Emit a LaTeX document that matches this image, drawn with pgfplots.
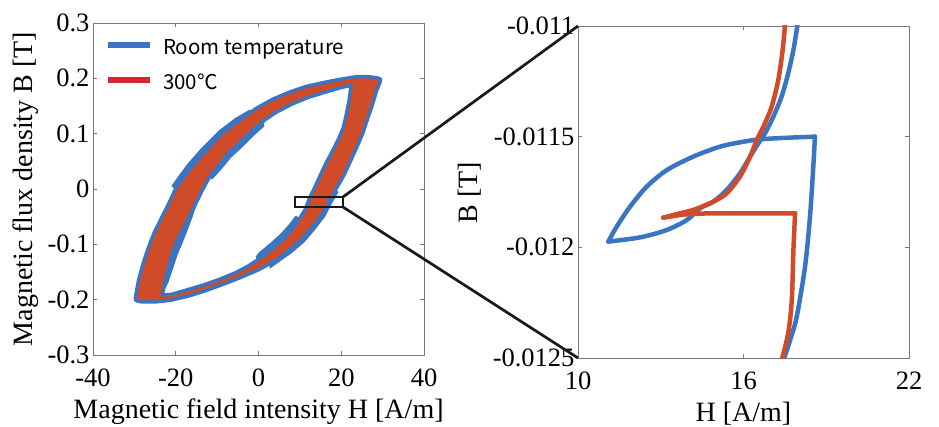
\documentclass[border=0pt]{standalone}
\usepackage{fontspec}
\setmainfont{Liberation Serif}
\newfontfamily\cjk{Noto Sans CJK JP}
\usepackage{pgfplots}
\pgfplotsset{compat=1.18}
\definecolor{cblue}{RGB}{58,117,196}
\definecolor{cred}{RGB}{208,76,40}
\definecolor{lred}{RGB}{215,35,45}
\definecolor{framec}{RGB}{120,120,120}
\pgfplotsset{
  myaxis/.style={
    scale only axis, width=331bp, height=332bp,
    axis line style={framec, line width=0.9bp},
    tick style={framec, line width=0.9bp},
    major tick length=4bp,
    tick align=inside,
    ticklabel style={font=\fontsize{26.5bp}{30bp}\selectfont},
    label style={font=\fontsize{28bp}{32bp}\selectfont},
    xticklabel style={anchor=base, yshift=-31.7bp},
    yticklabel style={anchor=east},
    scaled y ticks=false, scaled x ticks=false,
  }
}
\pgfplotstableread{
H B
29.12 0.197
26.47 0.2
23.81 0.2
19.70 0.195
15.59 0.189
11.48 0.182
7.61 0.172
3.50 0.159
-0.36 0.1428
-4.47 0.1211
-8.58 0.0976
-12.45 0.0669
-15.83 0.0380
-18.01 0.0163
-19.70 -0.0018
-21.39 -0.0289
-22.84 -0.0506
-24.77 -0.0795
-25.74 -0.0976
-26.95 -0.1229
-27.92 -0.1464
-28.64 -0.1681
-29.12 -0.1879
-29.37 -0.1988
-28.16 -0.201
-25.02 -0.201
-21.39 -0.198
-17.28 -0.191
-13.41 -0.182
-9.31 -0.171
-4.47 -0.157
-0.12 -0.143
3.75 -0.127
7.13 -0.108
10.03 -0.089
12.69 -0.067
15.11 -0.043
16.56 -0.0217
18.25 0.000
20.18 0.025
21.87 0.052
23.32 0.076
24.77 0.101
25.98 0.128
27.19 0.155
28.16 0.179
29.12 0.197
22.84 0.1916
19.70 0.1861
15.59 0.1771
11.72 0.1681
7.61 0.1554
3.99 0.1410
1.09 0.1265
-2.05 0.1066
-4.47 0.0886
-7.61 0.0669
-10.03 0.0434
-12.21 0.0235
-13.90 0.0000
-15.83 -0.0289
-17.28 -0.0506
-19.21 -0.0795
-20.42 -0.0976
-21.39 -0.1193
-22.36 -0.1464
-23.08 -0.1681
-23.57 -0.1879
-23.32 -0.1952
-20.91 -0.1934
-17.52 -0.1861
-13.41 -0.1771
-9.31 -0.1663
-5.20 -0.1536
-2.05 -0.1410
0.85 -0.1265
3.99 -0.1084
6.40 -0.0922
8.34 -0.0759
10.03 -0.0578
11.72 -0.0380
12.69 -0.0181
13.90 0.0000
15.11 0.0199
16.56 0.0434
18.25 0.0669
19.70 0.0886
20.91 0.1102
21.63 0.1337
22.36 0.1608
22.84 0.1916
}\bandtable
\begin{document}
\begin{tikzpicture}
\path[use as bounding box] (0,0) rectangle (939bp,427bp);
% ---------------- left panel ----------------
\begin{axis}[myaxis,
  at={(93bp,72bp)}, anchor=south west,
  xmin=-40, xmax=40, ymin=-0.3, ymax=0.3,
  xtick={-40,-20,0,20,40}, xticklabels={-40,-20,0,20,40},
  ytick={-0.3,-0.2,-0.1,0,0.1,0.2,0.3},
  yticklabels={-0.3,-0.2,-0.1,0,0.1,0.2,0.3},
  xlabel={Magnetic field intensity H [A/m]},
  ylabel={Magnetic flux density B [T]},
  xlabel style={at={(axis description cs:0.5,-0.19)}, anchor=base},
  ylabel style={at={(axis description cs:-0.184,0.5)}, anchor=base},
  every axis plot/.append style={line join=round},
]
% room temperature band
\addplot[fill=cblue, draw=cblue, line width=7bp, even odd rule] table[x=H,y=B] {\bandtable};
% wider fringes of the room temperature loop
\addplot[fill=cblue, draw=cblue, line width=1bp] coordinates {
(-15.83,-0.0289) (-17.28,-0.0506) (-19.21,-0.0795) (-20.42,-0.0976) (-21.39,-0.1193) (-22.36,-0.1464) (-23.08,-0.1681) (-23.57,-0.1825)
(-22.84,-0.1825) (-21.87,-0.1681) (-20.91,-0.1464) (-19.70,-0.1193) (-18.49,-0.0976) (-17.52,-0.0795) (-16.07,-0.0506) (-15.11,-0.0289)
};
\addplot[fill=cblue, draw=cblue, line width=1bp] coordinates {
(1.33,0.1265) (-2.05,0.1066) (-4.47,0.0886) (-7.61,0.0669) (-10.03,0.0434) (-12.21,0.0235)
(-11.24,0.0181) (-9.06,0.0361) (-6.65,0.0578) (-3.50,0.0795) (-1.09,0.0976) (1.33,0.1139)
};
\addplot[fill=cblue, draw=cblue, line width=1bp] coordinates {
(-2.05,0.1337) (-4.47,0.1211) (-8.58,0.0976) (-12.45,0.0669) (-15.83,0.0380) (-18.01,0.0163) (-19.70,-0.0018)
(-20.91,0.0054) (-19.21,0.0235) (-17.04,0.0452) (-13.66,0.0741) (-9.55,0.1048) (-5.44,0.1283) (-2.05,0.1428)
};
\addplot[fill=cblue, draw=cblue, line width=1bp] coordinates {
(-0.12,-0.1319) (0.85,-0.1265) (3.99,-0.1084) (6.40,-0.0922) (8.34,-0.0759) (10.03,-0.0578)
(9.06,-0.0488) (7.37,-0.0651) (5.44,-0.0813) (3.02,-0.0976) (0.12,-0.1157) (-0.60,-0.1229)
};
\addplot[fill=cblue, draw=cblue, line width=1bp] coordinates {
(2.30,-0.1337) (3.75,-0.1265) (7.13,-0.1084) (10.03,-0.0886) (12.69,-0.0669) (15.11,-0.0434) (16.56,-0.0217) (18.25,0)
(19.22,-0.0054) (17.52,-0.0271) (16.07,-0.0488) (13.66,-0.0723) (11.00,-0.0958) (7.86,-0.1157) (4.47,-0.1337) (2.78,-0.1428)
};
% 300 C band
\addplot[fill=cred, draw=none, even odd rule] table[x=H,y=B] {\bandtable};
\draw[black!90, line width=2.6bp] (axis cs:8.8,-0.0145) rectangle (axis cs:20.4,-0.0325);
\coordinate (zTR) at (axis cs:20.4,-0.0145);
\coordinate (zBR) at (axis cs:20.4,-0.0325);
\end{axis}
% ---------------- right panel ----------------
\begin{axis}[myaxis,
  at={(578bp,69bp)}, anchor=south west,
  xmin=10, xmax=22, ymin=-0.0125, ymax=-0.011,
  xtick={10,16,22}, xticklabels={10,16,22},
  ytick={-0.0125,-0.012,-0.0115,-0.011},
  yticklabels={-0.0125,-0.012,-0.0115,-0.011},
  xlabel={H [A/m]}, ylabel={B [T]},
  xlabel style={at={(axis description cs:0.5,-0.19)}, anchor=base},
  ylabel style={at={(axis description cs:-0.305,0.4985)}, anchor=base},
  every axis plot/.append style={line width=4.5bp, line cap=round, line join=round},
]
\addplot[cblue, smooth] coordinates {
(17.42,-0.01252) (17.69,-0.012419) (17.93,-0.012313) (18.23,-0.012088) (18.41,-0.011862) (18.53,-0.011636) (18.59,-0.011500)
};
\addplot[cblue, smooth] coordinates {
(18.59,-0.011500) (17.57,-0.011505) (16.60,-0.011512) (15.99,-0.011523) (15.15,-0.011545) (14.18,-0.011590) (13.22,-0.011651) (12.49,-0.011726) (11.89,-0.011816) (11.40,-0.011907) (11.10,-0.011974)
};
\addplot[cblue, smooth] coordinates {
(11.10,-0.011974) (12.25,-0.011955) (13.21,-0.011922) (13.94,-0.011877) (14.42,-0.011824) (14.90,-0.011794) (15.39,-0.011741) (15.87,-0.011666) (16.24,-0.011590) (16.54,-0.011530) (16.78,-0.011485) (17.08,-0.011410) (17.38,-0.011319) (17.62,-0.011214) (17.81,-0.011108) (17.95,-0.011000) (17.97,-0.01098)
};
\addplot[cred, smooth] coordinates {
(17.36,-0.01252) (17.62,-0.012388) (17.75,-0.012238) (17.81,-0.012012) (17.87,-0.011846)
};
\addplot[cred] coordinates {
(17.87,-0.011846) (14.60,-0.011847) (13.80,-0.011852) (13.09,-0.011866)
};
\addplot[cred, smooth] coordinates {
(13.09,-0.011866) (13.70,-0.011846) (14.18,-0.011831) (14.90,-0.011794) (15.39,-0.011756) (15.87,-0.011681) (16.24,-0.011590) (16.48,-0.011515) (16.72,-0.011455) (17.02,-0.011365) (17.26,-0.011244) (17.42,-0.011108) (17.50,-0.011000) (17.51,-0.01098)
};
\coordinate (rTL) at (rel axis cs:0,1);
\coordinate (rBL) at (rel axis cs:0,0);
\end{axis}
\draw[black!90, line width=2.7bp] (zTR) -- (rTL);
\draw[black!90, line width=2.7bp] (zBR) -- (rBL);
% legend
\draw[cblue, line width=6.5bp] (108bp,382bp) -- (150bp,382bp);
\draw[lred, line width=6bp] (108bp,347bp) -- (150bp,347bp);
\node[anchor=base west, inner sep=0pt, font=\cjk\fontsize{20.5bp}{24bp}\selectfont] at (163bp,372.5bp) {Room temperature};
\node[anchor=base west, inner sep=0pt, font=\cjk\fontsize{20.5bp}{24bp}\selectfont] at (163bp,337bp) {300℃};
\end{tikzpicture}
\end{document}
